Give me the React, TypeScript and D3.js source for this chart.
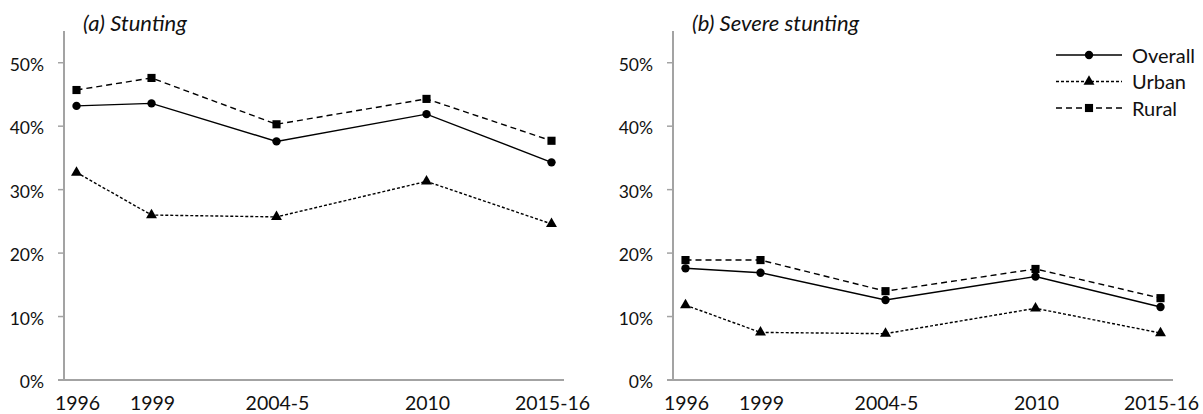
import React from "react";
import * as d3 from "d3";

// Survey rounds: labels and the year used to place each round on the time axis
const surveyLabels = ["1996", "1999", "2004-5", "2010", "2015-16"];
const surveyYears = [1996, 1999, 2004, 2010, 2015];

// Prevalence of stunting (share of children)
const stuntingOverall = [0.432, 0.436, 0.376, 0.419, 0.343];
const stuntingUrban = [0.327, 0.26, 0.257, 0.313, 0.246];
const stuntingRural = [0.457, 0.476, 0.403, 0.443, 0.377];

// Prevalence of severe stunting
const severeOverall = [0.176, 0.169, 0.126, 0.163, 0.115];
const severeUrban = [0.118, 0.075, 0.073, 0.113, 0.074];
const severeRural = [0.189, 0.189, 0.14, 0.175, 0.129];

const yTicks = [0, 0.1, 0.2, 0.3, 0.4, 0.5];

const seriesNames = ["Overall", "Urban", "Rural"];

const FONT = "Lato, 'Open Sans', sans-serif";
const AXIS = "#a3a3a3";

type Style = { dash: string; symbol: d3.SymbolType; size: number };
const styles: Style[] = [
  { dash: "none", symbol: d3.symbolCircle, size: 55 },
  { dash: "3,2", symbol: d3.symbolTriangle, size: 52 },
  { dash: "6,4", symbol: d3.symbolSquare, size: 66 },
];

const W = 1203;
const H = 414;
const top = 31;
const bottom = 380;

function Panel({
  x0,
  x1,
  title,
  series,
}: {
  x0: number;
  x1: number;
  title: string;
  series: number[][];
}) {
  const x = d3.scaleLinear().domain([1995.5, 2015.5]).range([x0, x1]);
  const y = d3.scaleLinear().domain([0, 0.55]).range([bottom, top]);
  const line = d3
    .line<number>()
    .x((_, i) => x(surveyYears[i]))
    .y((v) => y(v));
  const pct = d3.format(".0%");

  return (
    <g>
      {/* axes */}
      <line x1={x0} x2={x0} y1={top} y2={bottom + 1} stroke={AXIS} strokeWidth={2} />
      <line x1={x0 - 6} x2={x1} y1={bottom} y2={bottom} stroke={AXIS} strokeWidth={2} />
      {yTicks.map((t) => (
        <g key={t}>
          <line x1={x0 - 6} x2={x0} y1={y(t)} y2={y(t)} stroke={AXIS} strokeWidth={1.5} />
          <text
            x={x0 - 20}
            y={y(t)}
            dy="0.46em"
            textAnchor="end"
            fontSize={17.5}
            fontFamily={FONT}
            fill="#111"
          >
            {pct(t)}
          </text>
        </g>
      ))}
      {surveyLabels.map((lab, i) => (
        <text
          key={lab}
          x={x(surveyYears[i]) + 1}
          y={410}
          textAnchor="middle"
          fontSize={19.5}
          fontFamily={FONT}
          fill="#111"
        >
          {lab}
        </text>
      ))}
      <text
        x={x0 + 19}
        y={31}
        fontSize={22}
        fontStyle="italic"
        fontFamily={FONT}
        fill="#111"
      >
        {title}
      </text>

      {/* series */}
      {series.map((vals, s) => (
        <g key={s}>
          <path
            d={line(vals) ?? ""}
            fill="none"
            stroke="#000"
            strokeWidth={1.4}
            strokeDasharray={styles[s].dash}
          />
          {vals.map((v, i) => (
            <path
              key={i}
              transform={`translate(${x(surveyYears[i])},${y(v)})`}
              d={d3.symbol().type(styles[s].symbol).size(styles[s].size)() ?? ""}
              fill="#000"
            />
          ))}
        </g>
      ))}
    </g>
  );
}

function Legend({ x, y }: { x: number; y: number }) {
  return (
    <g>
      {seriesNames.map((name, i) => {
        const cy = y + i * 26.5;
        return (
          <g key={name}>
            <line
              x1={x}
              x2={x + 66}
              y1={cy}
              y2={cy}
              stroke="#000"
              strokeWidth={1.4}
              strokeDasharray={styles[i].dash}
            />
            <path
              transform={`translate(${x + 33},${cy})`}
              d={d3.symbol().type(styles[i].symbol).size(styles[i].size)() ?? ""}
              fill="#000"
            />
            <text
              x={x + 76}
              y={cy}
              dy="0.38em"
              fontSize={20}
              fontFamily={FONT}
              fill="#111"
            >
              {name}
            </text>
          </g>
        );
      })}
    </g>
  );
}

export default function App() {
  return (
    <svg
      width={W}
      height={H}
      style={{ position: "absolute", left: 0, top: 0, background: "#fff" }}
    >
      <Panel
        x0={64}
        x1={564}
        title="(a) Stunting"
        series={[stuntingOverall, stuntingUrban, stuntingRural]}
      />
      <Panel
        x0={673}
        x1={1173}
        title="(b) Severe stunting"
        series={[severeOverall, severeUrban, severeRural]}
      />
      <Legend x={1056} y={55} />
    </svg>
  );
}
